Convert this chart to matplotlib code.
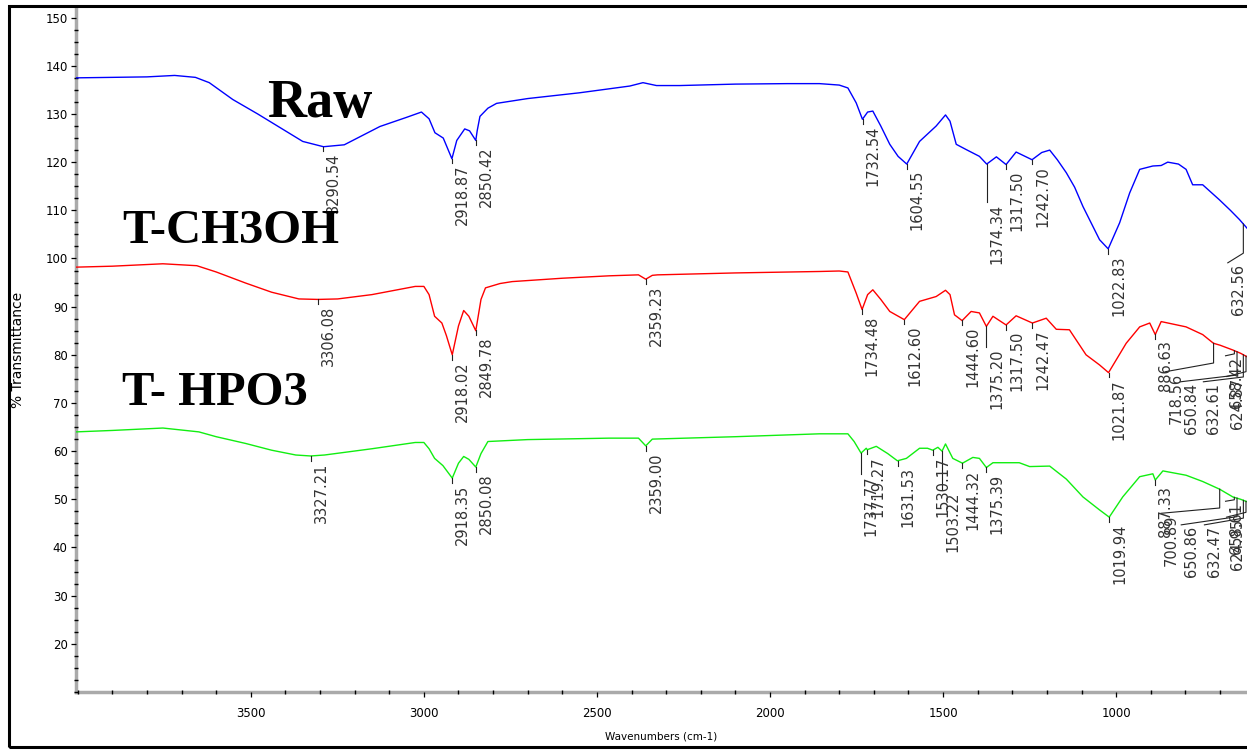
import numpy as np
import matplotlib
matplotlib.use("Agg")
import matplotlib.pyplot as plt
import matplotlib.transforms as mtransforms
from matplotlib.patches import Rectangle
from matplotlib.ticker import FixedLocator, MultipleLocator

# spectra: wavenumber (cm-1) and % transmittance
raw_wn = [4005, 3900, 3800, 3720, 3660, 3620, 3552, 3480, 3407, 3350, 3290, 3230, 3127, 3050,
          3007, 2985, 2968, 2944, 2919, 2905, 2882, 2868, 2850, 2846, 2838, 2815, 2790, 2700,
          2550, 2405, 2367, 2328, 2261, 2100, 1950, 1857, 1800, 1775, 1751, 1733, 1718, 1703,
          1680, 1654, 1630, 1605, 1568, 1520, 1493, 1480, 1462, 1433, 1395, 1374, 1346, 1318,
          1289, 1243, 1215, 1192, 1170, 1144, 1120, 1096, 1048, 1023, 990, 961, 932, 894, 870,
          851, 820, 798, 779, 750, 702, 670, 644, 622]
raw_t = [137.5, 137.6, 137.7, 138.0, 137.6, 136.5, 133.0, 130.0, 126.8, 124.3, 123.2, 123.6,
         127.4, 129.3, 130.4, 129.0, 126.1, 125.0, 120.7, 124.5, 126.9, 126.5, 124.5, 126.5,
         129.5, 131.2, 132.2, 133.2, 134.4, 135.8, 136.5, 135.9, 135.9, 136.2, 136.3, 136.3,
         136.0, 135.4, 132.3, 128.9, 130.4, 130.6, 127.5, 123.7, 121.2, 119.6, 124.3, 127.5,
         129.8, 128.5, 123.7, 122.6, 121.2, 119.6, 121.1, 119.5, 122.1, 120.5, 122.0, 122.5,
         120.5, 117.8, 114.8, 110.8, 103.9, 102.0, 107.4, 113.6, 118.5, 119.2, 119.3, 120.0,
         119.6, 118.5, 115.3, 115.3, 112.2, 110.0, 108.1, 106.3]

ch3oh_wn = [4005, 3900, 3754, 3656, 3600, 3515, 3440, 3361, 3306, 3249, 3150, 3025, 3000, 2985,
            2969, 2948, 2935, 2918, 2900, 2885, 2870, 2850, 2835, 2822, 2780, 2745, 2600, 2465,
            2380, 2359, 2340, 2325, 2100, 1857, 1800, 1775, 1751, 1734, 1718, 1703, 1680, 1654,
            1612, 1568, 1520, 1493, 1480, 1467, 1445, 1419, 1395, 1375, 1356, 1318, 1289, 1242,
            1202, 1173, 1135, 1087, 1048, 1022, 971, 932, 903, 887, 870, 798, 750, 719, 700,
            663, 640, 622]
ch3oh_t = [98.2, 98.4, 98.9, 98.5, 97.2, 94.9, 93.0, 91.6, 91.5, 91.6, 92.5, 94.2, 94.2, 92.5,
           88.0, 86.6, 84.0, 80.0, 86.0, 89.2, 88.0, 85.0, 91.5, 93.9, 94.8, 95.2, 95.9, 96.4,
           96.6, 95.7, 96.5, 96.6, 97.0, 97.3, 97.4, 97.2, 92.8, 89.4, 92.5, 93.5, 91.5, 89.0,
           87.3, 91.1, 92.1, 93.4, 92.5, 88.3, 87.1, 89.0, 88.7, 85.9, 88.0, 86.2, 88.1, 86.6,
           87.6, 85.3, 85.2, 80.0, 77.9, 76.3, 82.4, 85.8, 86.6, 84.2, 86.9, 85.8, 84.2, 82.4,
           82.0, 81.0, 80.3, 79.6]

hpo3_wn = [4005, 3900, 3754, 3650, 3600, 3515, 3440, 3370, 3327, 3287, 3150, 3025, 3000, 2985,
           2969, 2945, 2918, 2900, 2885, 2870, 2850, 2835, 2815, 2700, 2465, 2380, 2359, 2340,
           2100, 1857, 1775, 1757, 1737, 1722, 1719, 1693, 1660, 1632, 1606, 1568, 1545, 1530,
           1515, 1503, 1493, 1472, 1444, 1414, 1395, 1375, 1356, 1280, 1250, 1192, 1144, 1096,
           1048, 1020, 981, 932, 894, 887, 865, 798, 750, 701, 663, 640, 622]
hpo3_t = [64.0, 64.3, 64.8, 64.0, 63.0, 61.6, 60.2, 59.2, 59.0, 59.2, 60.5, 61.8, 61.8, 60.5,
          58.5, 57.0, 54.4, 57.5, 58.9, 58.3, 56.7, 59.5, 62.0, 62.4, 62.7, 62.7, 61.1, 62.5,
          63.0, 63.6, 63.6, 62.0, 59.6, 60.6, 60.3, 61.0, 59.5, 58.0, 58.5, 60.6, 60.6, 60.2,
          60.8, 60.0, 61.5, 58.5, 57.5, 58.7, 58.5, 56.6, 57.6, 57.6, 56.8, 56.9, 54.2, 50.5,
          47.8, 46.3, 50.5, 54.7, 55.3, 54.0, 55.9, 55.0, 53.7, 52.1, 50.5, 50.0, 49.5]

# peak labels
raw_peaks = ["3290.54", "2918.87", "2850.42", "1732.54", "1604.55", "1374.34", "1317.50",
             "1242.70", "1022.83", "632.56"]
ch3oh_peaks = ["3306.08", "2918.02", "2849.78", "2359.23", "1734.48", "1612.60", "1444.60",
               "1375.20", "1317.50", "1242.47", "1021.87", "886.63", "718.56", "650.84",
               "632.61", "658.42", "624.87"]
hpo3_peaks = ["3327.21", "2918.35", "2850.08", "2359.00", "1737.77", "1719.27", "1631.53",
              "1530.17", "1503.22", "1444.32", "1375.39", "1019.94", "887.33", "700.89",
              "650.86", "632.47", "658.61", "624.95"]

# bent leaders: label -> (bend T, label wn, label T)
raw_leaders = {"1374.34": (111.7, 1374.34, 111.7), "632.56": (101.1, 677.5, 99.1)}
ch3oh_leaders = {"1375.20": (81.7, 1375.20, 81.7), "718.56": (78.3, 857, 76.5),
                 "650.84": (75.8, 814, 74.4), "632.61": (75.4, 748, 74.4),
                 "658.42": (80.2, 684, 79.8), "624.87": (76.5, 681, 75.5)}
hpo3_leaders = {"1737.77": (55.3, 1737.77, 55.3), "1503.22": (52.0, 1503.22, 52.0),
                "700.89": (48.2, 870, 47.1), "650.86": (46.4, 812, 44.7),
                "632.47": (46.1, 745, 44.7), "658.61": (49.9, 684, 49.6),
                "624.95": (47.3, 681, 46.3)}

fig = plt.figure(figsize=(12.47, 7.5), dpi=100)
ax = fig.add_axes([76 / 1247, 58 / 750, 1171 / 1247, 684 / 750])


def mark_peaks(wn, t, peaks, leaders):
    wn = np.array(wn, dtype=float)
    t = np.array(t, dtype=float)
    txt_tr = mtransforms.offset_copy(ax.transData, fig=fig, x=3, y=-1.5, units='dots')
    for p in peaks:
        x = float(p)
        y = np.interp(x, wn[::-1], t[::-1])
        if p in leaders:
            bend, lx, ly = leaders[p]
        else:
            bend, lx, ly = y - 1.0, x, y - 1.0
        ax.plot([x, x, lx], [y, bend, ly], color='#222222', lw=0.8, zorder=3)
        ax.text(lx, ly, p, transform=txt_tr, rotation=90, ha='left', va='top',
                fontsize=10.5, color='#333333', zorder=4)


ax.plot(raw_wn, raw_t, color='#0000ff', lw=1.0)
ax.plot(ch3oh_wn, ch3oh_t, color='#ff0000', lw=1.0)
ax.plot(hpo3_wn, hpo3_t, color='#11ee11', lw=1.0)

mark_peaks(raw_wn, raw_t, raw_peaks, raw_leaders)
mark_peaks(ch3oh_wn, ch3oh_t, ch3oh_peaks, ch3oh_leaders)
mark_peaks(hpo3_wn, hpo3_t, hpo3_peaks, hpo3_leaders)

ax.set_xlim(4005, 622)
ax.set_ylim(10, 152)
ax.xaxis.set_major_locator(FixedLocator([3500, 3000, 2500, 2000, 1500, 1000]))
ax.xaxis.set_minor_locator(MultipleLocator(100))
ax.yaxis.set_major_locator(FixedLocator(list(range(20, 151, 10))))
ax.yaxis.set_minor_locator(MultipleLocator(2.5))

for side in ['top', 'right']:
    ax.spines[side].set_visible(False)
for side in ['left', 'bottom']:
    ax.spines[side].set_color('#aaaaaa')
    ax.spines[side].set_linewidth(2.5)
    ax.spines[side].set_zorder(1)

ax.tick_params(which='major', direction='out', length=3.5, width=0.9, colors='black',
               labelsize=8.5)
ax.tick_params(which='minor', direction='inout', length=3, width=1.0, colors='black')
ax.tick_params(axis='x', which='major', pad=7)
ax.tick_params(axis='y', which='major', pad=2.5)

ax.set_xlabel('Wavenumbers (cm-1)', fontsize=7.5)
ax.set_ylabel('% Transmittance', fontsize=10)
ax.xaxis.set_label_coords(0.5, -0.058)
ax.yaxis.set_label_coords(-0.0436, 0.5)

# sample names
fig.text(267 / 1247, 1 - 117 / 750, 'Raw', fontsize=39, fontweight='bold',
         family='Liberation Serif', va='baseline', zorder=10)
fig.text(122 / 1247, 1 - 243 / 750, 'T-CH3OH', fontsize=35, fontweight='bold',
         family='Liberation Serif', va='baseline', zorder=10)
fig.text(122 / 1247, 1 - 405 / 750, 'T- HPO3', fontsize=35, fontweight='bold',
         family='Liberation Serif', va='baseline', zorder=10)

# frame around the picture
fig.patches.append(Rectangle((9 / 1247, 3 / 750), 1.1, 741.5 / 750, transform=fig.transFigure,
                             fill=False, edgecolor='black', lw=2.2, clip_on=False))

fig.savefig('out.png', dpi=100)
